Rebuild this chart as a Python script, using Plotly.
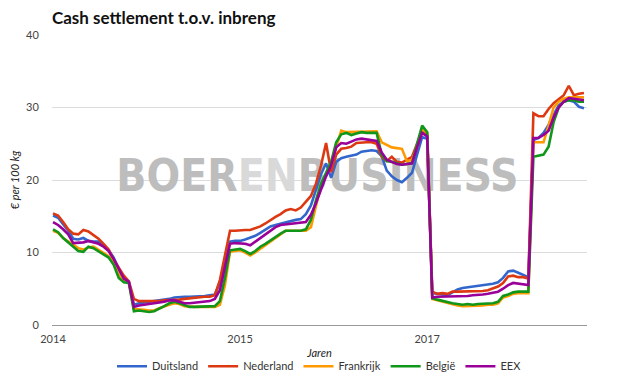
import plotly.graph_objects as go

# weekly observations (index positions along the x axis)
tick_labels = ["2014", "2015", "2017"]
tick_positions = [0, 37, 74]

duitsland = [15.1, 14.8, 13.9, 13.0, 11.9, 11.8, 12.0, 11.6, 11.5, 11.5, 11.0, 10.3, 9.3, 7.8, 6.3, 5.9,
             2.8, 3.0, 3.1, 3.2, 3.2, 3.3, 3.4, 3.6, 3.8, 3.9, 3.9, 3.9, 3.9, 3.9, 4.0, 4.1, 4.2, 5.8, 8.5,
             11.5, 11.6, 11.6, 11.8, 12.0, 12.3, 12.7, 13.2, 13.6, 13.8, 14.0, 14.2, 14.3, 14.5, 14.6, 15.3,
             16.5, 18.5, 20.8, 22.3, 20.3, 22.5, 23.0, 23.2, 23.3, 23.5, 23.9, 24.0, 24.1, 24.0, 23.3, 21.3,
             20.5, 20.0, 19.7, 20.3, 21.0, 23.5, 25.9, 25.7,
             4.4, 4.3, 4.2, 4.1, 4.5, 4.9, 5.1, 5.2, 5.2, 5.3, 5.4, 5.5, 5.7, 5.9, 6.5, 7.4, 7.5, 7.2, 6.9, 6.6,
             25.5, 25.8, 26.5, 27.6, 29.0, 30.3, 30.8, 31.0, 30.8, 30.1, 29.9]

nederland = [15.4, 15.1, 14.2, 13.2, 12.6, 12.5, 13.1, 12.9, 12.4, 11.9, 11.2, 10.4, 9.0, 7.8, 6.8, 6.0,
             3.6, 3.3, 3.3, 3.2, 3.3, 3.3, 3.4, 3.4, 3.4, 3.5, 3.6, 3.7, 3.7, 3.8, 3.9, 3.9, 4.1, 6.2, 9.5,
             13.0, 13.0, 13.1, 13.1, 13.1, 13.3, 13.6, 14.0, 14.5, 14.9, 15.3, 15.8, 16.0, 15.8, 16.2, 17.0,
             17.8, 19.5, 22.0, 25.1, 21.1, 23.5, 24.3, 24.4, 24.6, 25.1, 25.2, 25.2, 25.2, 25.0, 23.2, 22.6,
             23.2, 22.5, 22.4, 22.8, 23.2, 25.0, 26.8, 26.3,
             4.6, 4.3, 4.4, 4.3, 4.6, 4.6, 4.6, 4.6, 4.7, 4.7, 4.7, 4.8, 5.0, 5.3, 5.8, 6.7, 6.8, 6.6, 6.6, 6.4,
             29.2, 28.8, 28.8, 29.8, 30.6, 31.2, 31.7, 33.0, 31.7, 31.9, 32.0]

frankrijk = [13.0, 12.7, 12.0, 11.5, 11.0, 10.6, 10.4, 10.7, 10.8, 10.4, 10.0, 9.5, 8.6, 7.0, 6.2, 5.9,
             2.2, 2.2, 2.1, 2.0, 2.0, 2.3, 2.6, 2.8, 3.0, 2.9, 2.6, 2.5, 2.5, 2.5, 2.5, 2.5, 2.5, 2.8, 5.5,
             10.1, 10.2, 10.3, 10.0, 9.6, 10.0, 10.5, 11.0, 11.5, 12.0, 12.6, 13.0, 13.0, 13.0, 13.0, 13.0,
             13.5, 16.5, 19.3, 20.8, 22.0, 24.5, 26.8, 26.6, 26.6, 26.6, 26.7, 26.7, 26.7, 26.7, 25.2, 24.8,
             24.5, 24.4, 24.3, 22.6, 22.8, 24.5, 27.0, 26.5,
             3.6, 3.4, 3.2, 3.0, 2.8, 2.7, 2.6, 2.6, 2.6, 2.7, 2.7, 2.8, 2.8, 3.0, 3.8, 4.0, 4.3, 4.4, 4.4, 4.4,
             25.2, 25.2, 25.2, 27.5, 30.0, 30.8, 31.2, 31.4, 31.4, 31.4, 31.4]

belgie = [13.2, 12.8, 12.0, 11.4, 10.8, 10.2, 10.1, 10.8, 10.6, 10.2, 9.8, 9.3, 8.3, 6.5, 5.9, 5.8,
          1.9, 2.0, 1.9, 1.8, 1.9, 2.2, 2.6, 3.0, 3.2, 3.0, 2.7, 2.5, 2.5, 2.5, 2.5, 2.5, 2.6, 3.3, 6.5,
          10.3, 10.4, 10.5, 10.2, 9.8, 10.2, 10.8, 11.2, 11.7, 12.2, 12.6, 13.0, 13.0, 13.0, 13.0, 13.2,
          14.5, 17.2, 19.5, 21.0, 22.5, 25.2, 26.3, 26.5, 26.2, 26.4, 26.6, 26.5, 26.5, 26.5, 23.5, 22.6,
          22.5, 22.3, 22.1, 22.2, 22.3, 25.0, 27.5, 26.6,
          3.7, 3.5, 3.3, 3.2, 3.0, 2.9, 2.8, 2.9, 2.8, 2.9, 2.9, 2.9, 3.0, 3.2, 4.0, 4.2, 4.5, 4.6, 4.6, 4.6,
          23.2, 23.3, 23.5, 24.6, 28.0, 30.0, 30.8, 31.0, 31.0, 30.8, 30.8]

eex = [14.2, 13.8, 13.2, 12.5, 11.3, 11.3, 11.4, 11.6, 11.4, 11.2, 10.8, 10.2, 9.1, 7.8, 6.4, 6.0,
       2.5, 2.7, 2.8, 2.9, 3.0, 3.0, 3.2, 3.4, 3.4, 3.2, 3.0, 3.0, 3.1, 3.2, 3.2, 3.3, 3.6, 4.8, 8.0,
       11.2, 11.3, 11.3, 11.2, 11.0, 11.5, 12.0, 12.5, 13.0, 13.5, 13.8, 13.9, 14.0, 14.1, 14.1, 14.2,
       15.2, 16.8, 18.7, 20.5, 22.0, 24.5, 25.1, 25.0, 25.3, 25.6, 25.7, 25.6, 25.5, 25.4, 23.8, 22.8,
       22.5, 22.2, 22.1, 22.2, 22.3, 24.5, 26.5, 26.0,
       3.8, 3.9, 3.9, 3.9, 3.9, 3.9, 4.0, 4.0, 4.1, 4.1, 4.2, 4.3, 4.4, 4.6, 5.0, 5.5, 5.8, 5.7, 5.6, 5.5,
       25.8, 25.8, 26.2, 26.8, 28.6, 30.0, 30.8, 31.3, 31.2, 31.1, 31.0]

series_names = ["Duitsland", "Nederland", "Frankrijk", "België", "EEX"]
series_values = [duitsland, nederland, frankrijk, belgie, eex]
colors = ["#3366cc", "#dc3912", "#ff9900", "#109618", "#990099"]

FONT = "Lato"
n = len(duitsland)
x = list(range(n))

fig = go.Figure()

# watermark (drawn first so it sits behind the lines)
fig.add_trace(go.Scatter(
    x=[52.3], y=[20.0], mode="text",
    text=["BOER<span style='fill:#d9d9d9'>EN</span>BUSINESS"],
    textfont=dict(family="DejaVu Sans Condensed", size=44, color="#bdbdbd", weight="bold"),
    textposition="middle center", hoverinfo="skip", showlegend=False,
))

for name, vals, col in zip(series_names, series_values, colors):
    fig.add_trace(go.Scatter(
        x=x, y=vals, mode="lines", name=name,
        line=dict(color=col, width=2.6),
    ))

fig.update_layout(
    template="none",
    width=625, height=386,
    margin=dict(l=52, r=38, t=35, b=61, autoexpand=False),
    paper_bgcolor="white", plot_bgcolor="rgba(0,0,0,0)",
    font=dict(family=FONT, size=11, color="#333"),
    title=dict(text="<b>Cash settlement t.o.v. inbreng</b>", x=52/625, xanchor="left",
               y=1 - 18/386, yanchor="middle", font=dict(family=FONT, size=17, color="#111")),
    showlegend=True,
    legend=dict(orientation="h", x=0.5, xanchor="center", y=-0.142, yanchor="middle",
                font=dict(family=FONT, size=11, color="#333"), itemwidth=30,
                bgcolor="rgba(0,0,0,0)"),
    xaxis=dict(range=[-0.2, 105.6], tickvals=tick_positions, ticktext=tick_labels,
               showgrid=False, zeroline=False, showline=False, automargin=False,
               ticks="outside", ticklen=4, tickcolor="rgba(0,0,0,0)",
               tickfont=dict(family=FONT, size=11, color="#444"),
               title=dict(text="<i>Jaren</i>", standoff=5, font=dict(family=FONT, size=11, color="#222"))),
    yaxis=dict(range=[0, 40], tickvals=[0, 10, 20, 30, 40], showgrid=True, gridcolor="#dcdcdc",
               gridwidth=1, zeroline=True, zerolinecolor="#999", zerolinewidth=1, automargin=False,
               ticks="outside", ticklen=10, tickcolor="rgba(0,0,0,0)",
               tickfont=dict(family=FONT, size=11, color="#444"),
               title=dict(text="<i>€ per 100 kg</i>", standoff=4, font=dict(family=FONT, size=11, color="#222"))),
)

fig.write_html("out.html", config={"displayModeBar": False},
               post_script="document.body.style.margin='0';document.body.style.padding='0';")
